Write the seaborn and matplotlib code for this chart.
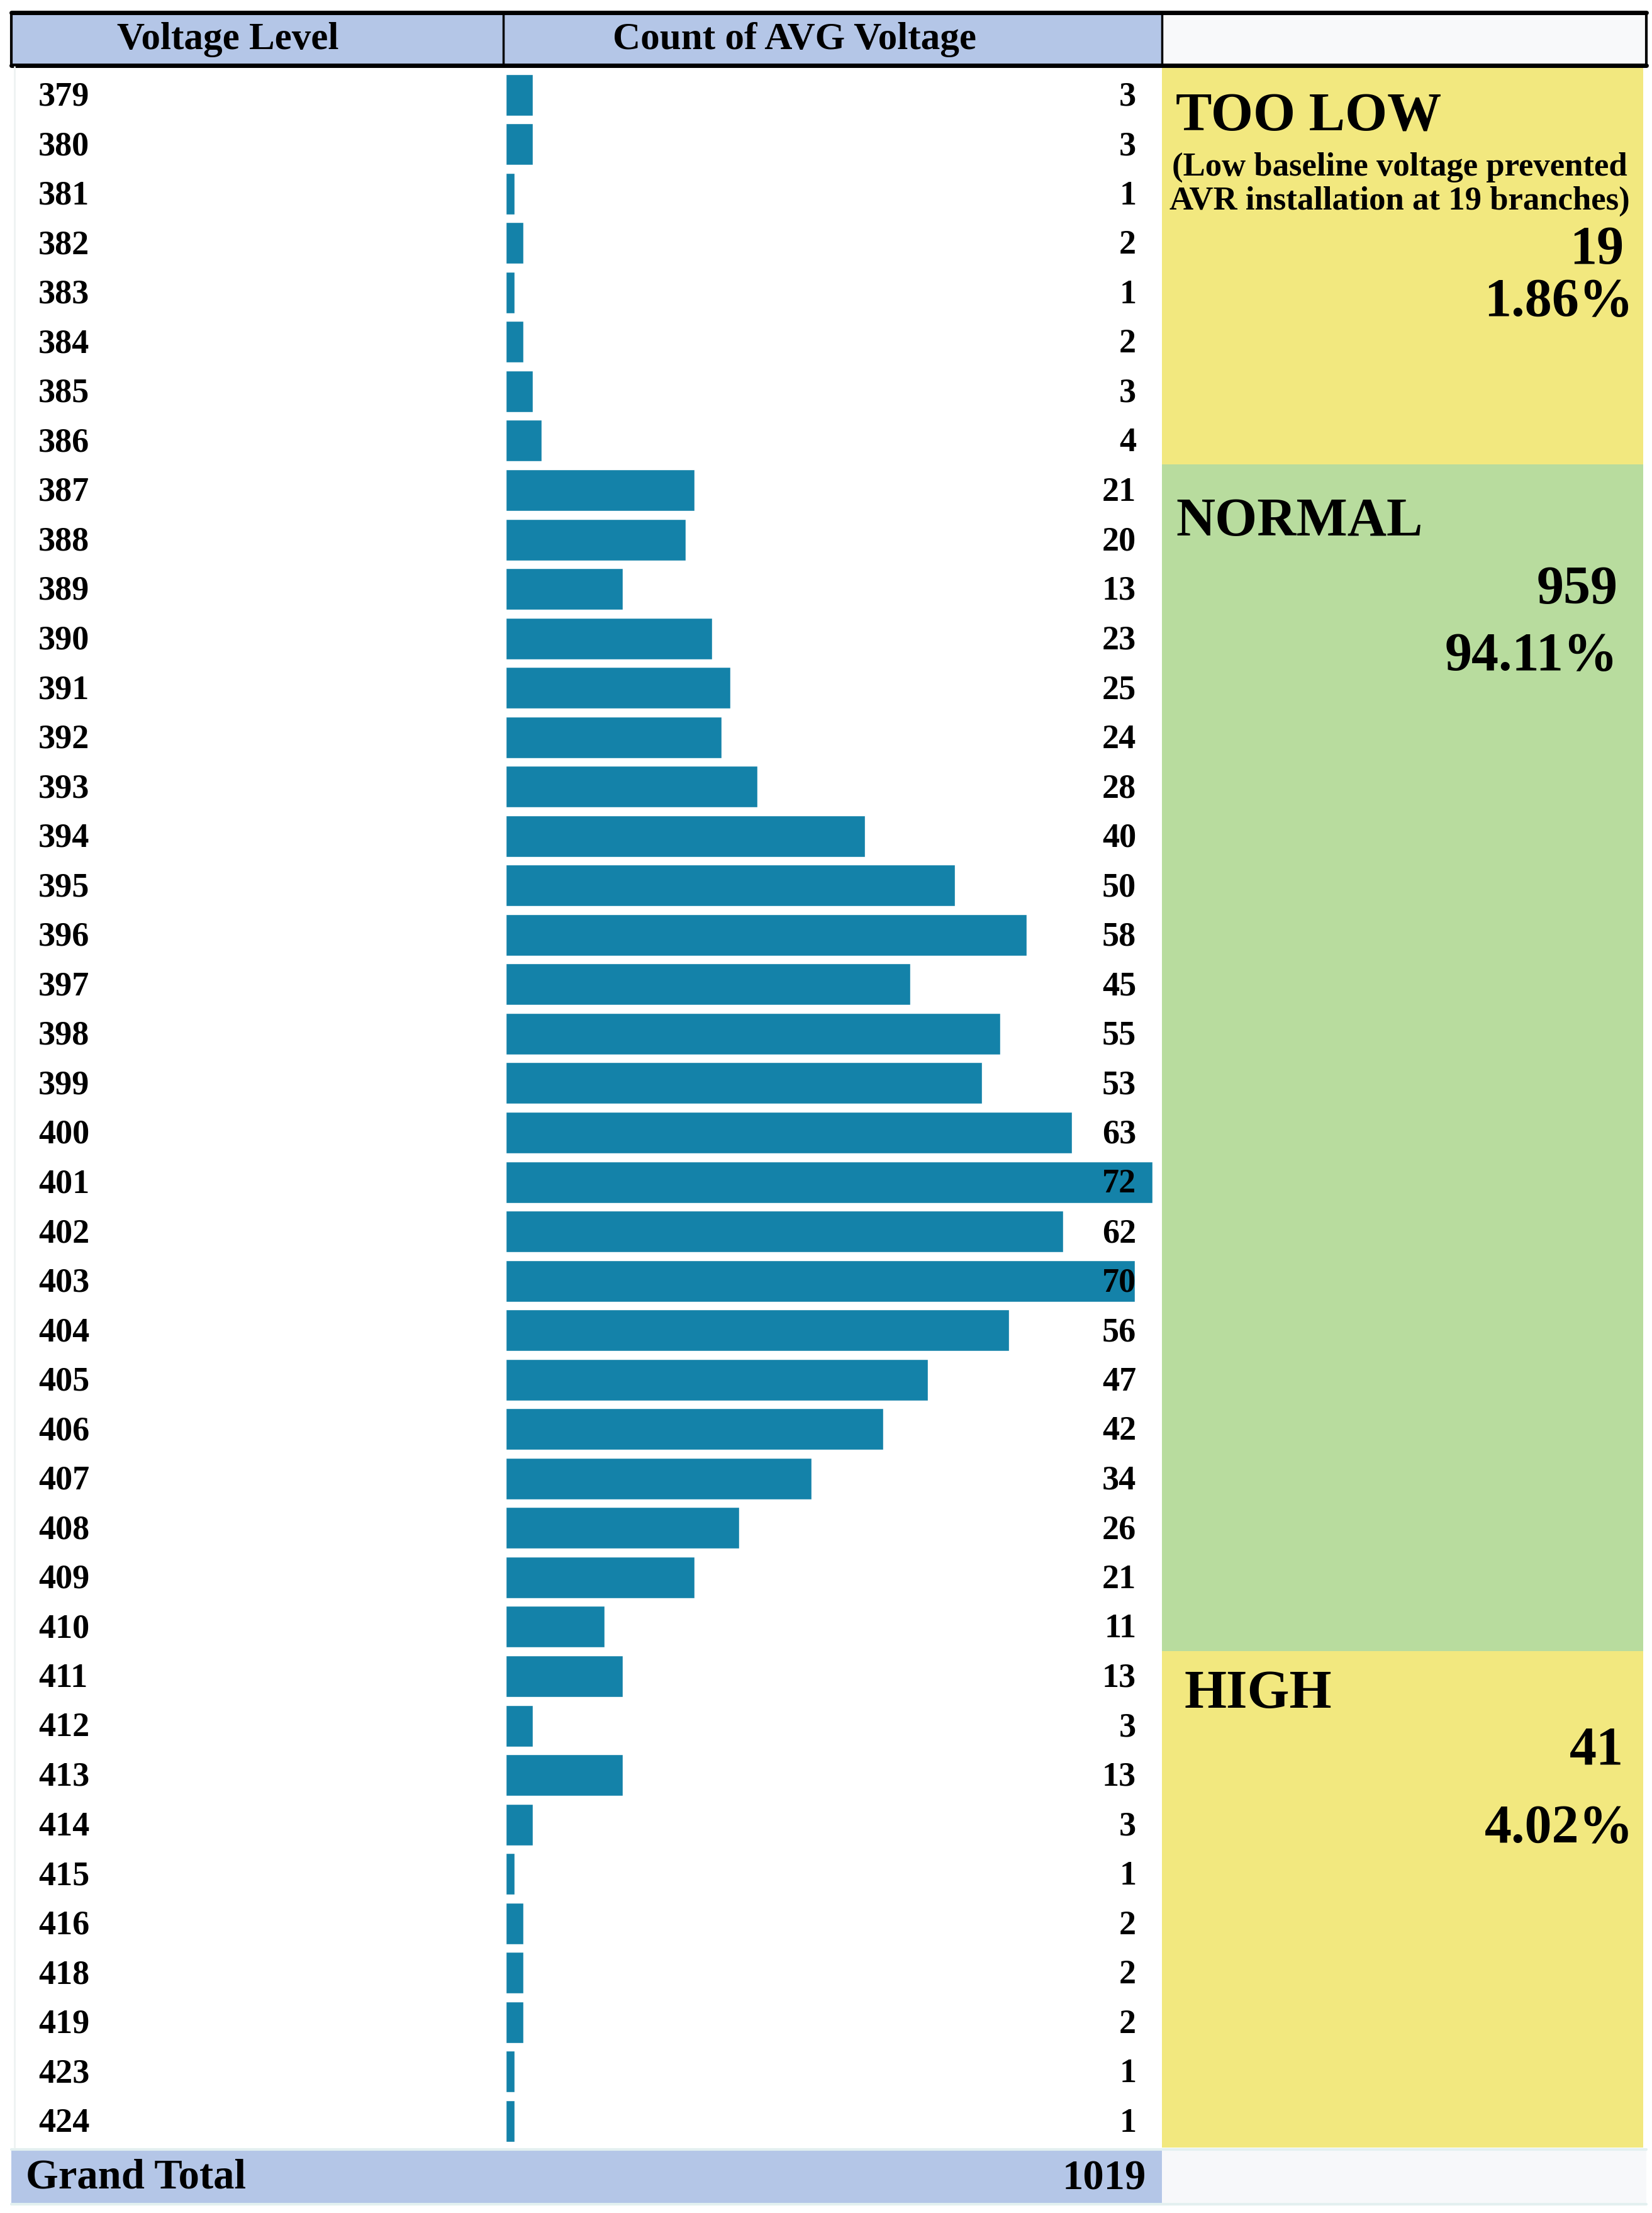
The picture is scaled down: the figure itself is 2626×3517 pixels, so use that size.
import seaborn as sns
import matplotlib
matplotlib.use("Agg")
from matplotlib import pyplot as plt
from matplotlib import transforms
from matplotlib.patches import Rectangle

levels = ["379", "380", "381", "382", "383", "384", "385", "386", "387", "388",
          "389", "390", "391", "392", "393", "394", "395", "396", "397", "398",
          "399", "400", "401", "402", "403", "404", "405", "406", "407", "408",
          "409", "410", "411", "412", "413", "414", "415", "416", "418", "419",
          "423", "424"]
counts = [3, 3, 1, 2, 1, 2, 3, 4, 21, 20,
          13, 23, 25, 24, 28, 40, 50, 58, 45, 55,
          53, 63, 72, 62, 70, 56, 47, 42, 34, 26,
          21, 11, 13, 3, 13, 3, 1, 2, 2, 2,
          1, 1]
grand_total = 1019
groups = ["TOO LOW", "NORMAL", "HIGH"]
group_counts = ["19", "959", "41"]
group_pcts = ["1.86%", "94.11%", "4.02%"]
too_low_note = "(Low baseline voltage prevented\nAVR installation at 19 branches)"

W, H = 1166, 1563
BLUE_HDR = "#b4c6e7"
BAR = "#1482a9"
YELLOW = "#f2e87f"
GREEN = "#b8dc9e"

sns.set_style("white")
plt.rcParams["font.family"] = ["Liberation Serif", "DejaVu Serif"]
plt.rcParams["font.weight"] = "bold"
plt.rcParams["text.color"] = "black"


def fx(x):
    return x / W


def fy(y):
    return 1 - y / H


fig = plt.figure(figsize=(26.26, 35.17), dpi=100)
fig.patch.set_facecolor("white")


def box(x0, y0, x1, y1, color):
    fig.add_artist(Rectangle((fx(x0), fy(y1)), fx(x1) - fx(x0), fy(y0) - fy(y1),
                             transform=fig.transFigure, facecolor=color,
                             edgecolor="none"))


def line(x0, y0, x1, y1, lw=3, color="black"):
    fig.add_artist(plt.Line2D([fx(x0), fx(x1)], [fy(y0), fy(y1)],
                              transform=fig.transFigure, color=color, lw=lw))


# header
box(8, 9, 820, 46, BLUE_HDR)
box(820, 9, 1162, 46, "#f8f9fa")
line(8, 9, 1162, 9, lw=5)
line(8, 46, 1162, 46, lw=5)
line(8, 9, 8, 46, lw=3)
line(1162, 9, 1162, 46, lw=3)
line(355, 9, 355, 46, lw=2.5)
line(820, 9, 820, 46, lw=2.5)
fig.text(fx(161), fy(28), "Voltage Level", ha="center", va="center", fontsize=44)
fig.text(fx(561), fy(28), "Count of AVG Voltage", ha="center", va="center", fontsize=44)

# right side category panels
box(820, 47, 1160, 328, YELLOW)
box(820, 328, 1160, 1166, GREEN)
box(820, 1166, 1160, 1517, YELLOW)
fig.text(fx(830), fy(83), groups[0], ha="left", va="center", fontsize=62)
fig.text(fx(988), fy(130), too_low_note, ha="center", va="center",
         fontsize=38, linespacing=1.15)
fig.text(fx(1146), fy(177), group_counts[0], ha="right", va="center", fontsize=62)
fig.text(fx(1153), fy(214), group_pcts[0], ha="right", va="center", fontsize=62)
fig.text(fx(830), fy(369), groups[1], ha="left", va="center", fontsize=62)
fig.text(fx(1142), fy(417), group_counts[1], ha="right", va="center", fontsize=62)
fig.text(fx(1142), fy(464), group_pcts[1], ha="right", va="center", fontsize=62)
fig.text(fx(836), fy(1197), groups[2], ha="left", va="center", fontsize=62)
fig.text(fx(1146), fy(1237), group_counts[2], ha="right", va="center", fontsize=62)
fig.text(fx(1153), fy(1292), group_pcts[2], ha="right", va="center", fontsize=62)

# grand total row
box(8, 1519, 820, 1556, BLUE_HDR)
box(820, 1519, 1162, 1556, "#f7f8fa")
line(8, 1518, 1162, 1518, lw=3, color="#e3f0f0")
line(8, 1557, 1162, 1557, lw=3, color="#e3f0f0")
fig.text(fx(18), fy(1538), "Grand Total", ha="left", va="center", fontsize=48)
fig.text(fx(809), fy(1539), str(grand_total), ha="right", va="center", fontsize=48)

# faint left border of the body
line(10, 47, 10, 1517, lw=2, color="#eef2f2")

# bars
ax = fig.add_axes([fx(355), fy(1515.5), fx(820) - fx(355), fy(49.5) - fy(1515.5)])
ax.set_facecolor("none")
sns.barplot(x=counts, y=levels, orient="h", color=BAR, saturation=1,
            width=0.84, ax=ax)
ax.set_xlim(-0.3, 73.0)
ax.set_ylim(len(levels) - 0.5, -0.5)
ax.set_xticks([])
ax.set_yticks([])
ax.set_xlabel("")
ax.set_ylabel("")
for s in ax.spines.values():
    s.set_visible(False)

trans = transforms.blended_transform_factory(fig.transFigure, ax.transData)
for i, (lv, c) in enumerate(zip(levels, counts)):
    ax.text(fx(27), i + 0.05, lv, transform=trans, ha="left", va="center",
            fontsize=39, clip_on=False)
    ax.text(fx(802), i + 0.05, str(c), transform=trans, ha="right", va="center",
            fontsize=39, clip_on=False)

fig.savefig("out.png", dpi=100, facecolor="white")
